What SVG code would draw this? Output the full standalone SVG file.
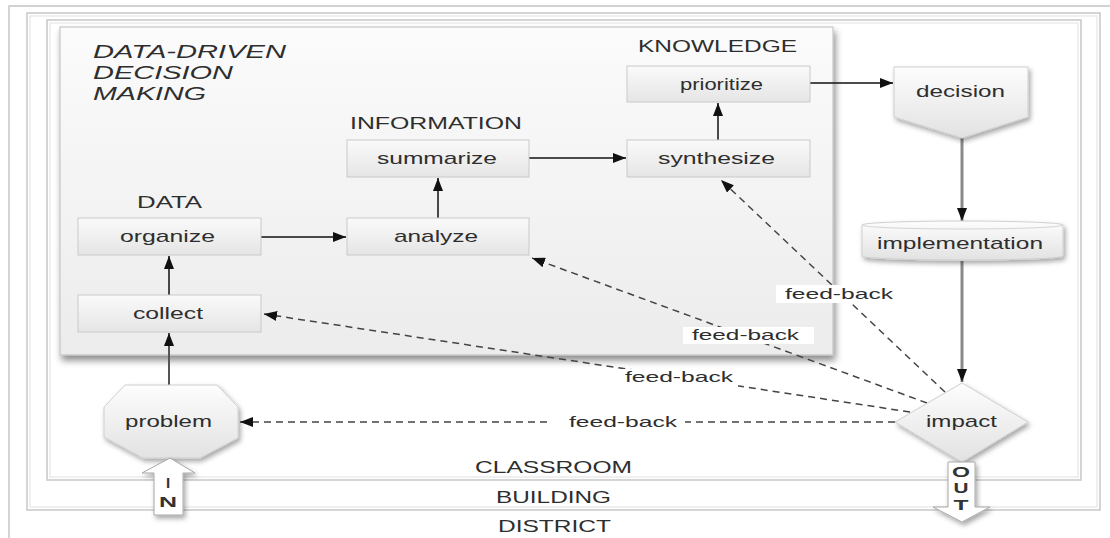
<svg xmlns="http://www.w3.org/2000/svg" width="1110" height="538" viewBox="0 0 1110 538">
  <defs>
    <style>
      text { font-family: "Liberation Sans", Arial, sans-serif; fill: #2e2e2e; }
      .title { font-size: 19px; font-style: italic; }
      .section { font-size: 17px; }
      .label { font-size: 17px; }
      .fb { font-size: 15px; }
      .level { font-size: 17px; }
      .io { font-size: 15px; font-weight: bold; fill: #333; }
      .frame { fill: none; stroke: #c4c4c4; stroke-width: 1.4; }
      .frame-in { fill: none; stroke: #e6e6e6; stroke-width: 1.2; }
      .box { fill: url(#boxGrad); stroke: #c9c9c9; stroke-width: 1; }
      .shape { fill: url(#shapeGrad); stroke: #cfcfcf; stroke-width: 1; filter: url(#shadow); }
      .flow { stroke: #111; stroke-width: 1.5; fill: none; marker-end: url(#arrow); }
      .flow-gray { stroke: #8a8a8a; stroke-width: 3; fill: none; marker-end: url(#arrow); }
      .flow-dark { stroke: #555; stroke-width: 2; fill: none; marker-end: url(#arrow); }
      .feedback { stroke: #444; stroke-width: 1.5; stroke-dasharray: 7 5; fill: none; marker-end: url(#arrow); }
      .lblbg { fill: #ffffff; }
      .io-arrow { fill: #ffffff; stroke: #a8a8a8; stroke-width: 1; filter: url(#shadow); }
    </style>
    <linearGradient id="panelGrad" x1="0" y1="0" x2="0" y2="1">
      <stop offset="0" stop-color="#fbfbfb"/>
      <stop offset="1" stop-color="#ececec"/>
    </linearGradient>
    <linearGradient id="boxGrad" x1="0" y1="0" x2="0" y2="1">
      <stop offset="0" stop-color="#fafafa"/>
      <stop offset="1" stop-color="#e5e5e5"/>
    </linearGradient>
    <linearGradient id="shapeGrad" x1="0" y1="0" x2="0" y2="1">
      <stop offset="0" stop-color="#fdfdfd"/>
      <stop offset="1" stop-color="#e2e2e2"/>
    </linearGradient>
    <filter id="shadow" x="-20%" y="-20%" width="140%" height="150%">
      <feDropShadow dx="2" dy="3" stdDeviation="2.5" flood-color="#000" flood-opacity="0.35"/>
    </filter>
    <filter id="panelShadow" x="-5%" y="-5%" width="110%" height="115%">
      <feDropShadow dx="2" dy="5" stdDeviation="3.5" flood-color="#000" flood-opacity="0.45"/>
    </filter>
    <marker id="arrow" markerUnits="userSpaceOnUse" markerWidth="14" markerHeight="10" refX="13" refY="5" orient="auto">
      <path d="M0,0 L13,5 L0,10 Z" fill="#111" stroke="none"/>
    </marker>
  </defs>

  <rect width="1110" height="538" fill="#ffffff"/>

  <!-- nested scopes: district, building, classroom -->
  <g id="district">
    <path class="frame" d="M9,538 L9,6 L1110,6"/>
    <text class="level" x="498" y="532" textLength="113" lengthAdjust="spacingAndGlyphs">DISTRICT</text>
  </g>
  <g id="building">
    <rect class="frame" x="27" y="13" width="1073" height="497"/>
    <rect class="frame-in" x="30" y="16" width="1067" height="491"/>
    <text class="level" x="496" y="503" textLength="115" lengthAdjust="spacingAndGlyphs">BUILDING</text>
  </g>
  <g id="classroom">
    <rect class="frame" x="47" y="20" width="1034" height="460"/>
    <rect class="frame-in" x="50" y="23" width="1028" height="454"/>
    <text class="level" x="475" y="473" textLength="157" lengthAdjust="spacingAndGlyphs">CLASSROOM</text>
  </g>

  <!-- data-driven decision making panel -->
  <g id="ddm-panel">
    <rect x="60" y="27" width="773" height="328" fill="url(#panelGrad)" stroke="#bdbdbd" stroke-width="1" filter="url(#panelShadow)"/>
    <text class="title" x="93" y="58" textLength="193" lengthAdjust="spacingAndGlyphs">DATA-DRIVEN</text>
    <text class="title" x="93" y="79" textLength="140" lengthAdjust="spacingAndGlyphs">DECISION</text>
    <text class="title" x="93" y="100" textLength="113" lengthAdjust="spacingAndGlyphs">MAKING</text>
    <text class="section" x="137" y="208" textLength="65" lengthAdjust="spacingAndGlyphs">DATA</text>
    <text class="section" x="350" y="129" textLength="172" lengthAdjust="spacingAndGlyphs">INFORMATION</text>
    <text class="section" x="638" y="52" textLength="159" lengthAdjust="spacingAndGlyphs">KNOWLEDGE</text>
  </g>

  <!-- connectors -->
  <g id="connectors">
    <line class="flow-dark" x1="169" y1="385" x2="169" y2="333"/>
    <line class="flow" x1="169" y1="295" x2="169" y2="256"/>
    <line class="flow" x1="261" y1="237" x2="346" y2="237"/>
    <line class="flow" x1="438" y1="218" x2="438" y2="178"/>
    <line class="flow" x1="529" y1="158" x2="626" y2="158"/>
    <line class="flow" x1="718" y1="140" x2="718" y2="103"/>
    <line class="flow" x1="810" y1="83" x2="893" y2="83"/>
    <line class="flow-gray" x1="962" y1="138" x2="962" y2="221"/>
    <line class="flow-gray" x1="962" y1="261" x2="962" y2="382"/>

    <line class="feedback" x1="895" y1="422" x2="240" y2="422"/>
    <line class="feedback" x1="910" y1="412" x2="264" y2="314"/>
    <line class="feedback" x1="927" y1="403" x2="532" y2="258"/>
    <line class="feedback" x1="945" y1="392" x2="721" y2="180"/>

    <rect class="lblbg" x="547" y="413" width="138" height="19"/>
    <text class="fb" x="569" y="427" textLength="108" lengthAdjust="spacingAndGlyphs">feed-back</text>
    <rect class="lblbg" x="620" y="369" width="118" height="18"/>
    <text class="fb" x="625" y="382" textLength="108" lengthAdjust="spacingAndGlyphs">feed-back</text>
    <rect class="lblbg" x="683" y="327" width="131" height="17"/>
    <text class="fb" x="692" y="340" textLength="107" lengthAdjust="spacingAndGlyphs">feed-back</text>
    <rect class="lblbg" x="776" y="285" width="117" height="18"/>
    <text class="fb" x="785" y="299" textLength="108" lengthAdjust="spacingAndGlyphs">feed-back</text>
  </g>

  <!-- process steps -->
  <g id="collect">
    <rect class="box" x="78" y="295" width="183" height="37"/>
    <text class="label" x="133" y="319" textLength="70" lengthAdjust="spacingAndGlyphs">collect</text>
  </g>
  <g id="organize">
    <rect class="box" x="78" y="218" width="183" height="37"/>
    <text class="label" x="120" y="242" textLength="95" lengthAdjust="spacingAndGlyphs">organize</text>
  </g>
  <g id="analyze">
    <rect class="box" x="347" y="218" width="182" height="37"/>
    <text class="label" x="394" y="242" textLength="84" lengthAdjust="spacingAndGlyphs">analyze</text>
  </g>
  <g id="summarize">
    <rect class="box" x="347" y="140" width="182" height="37"/>
    <text class="label" x="377" y="164" textLength="120" lengthAdjust="spacingAndGlyphs">summarize</text>
  </g>
  <g id="synthesize">
    <rect class="box" x="627" y="140" width="183" height="37"/>
    <text class="label" x="658" y="164" textLength="117" lengthAdjust="spacingAndGlyphs">synthesize</text>
  </g>
  <g id="prioritize">
    <rect class="box" x="627" y="66" width="183" height="36"/>
    <text class="label" x="680" y="90" textLength="83" lengthAdjust="spacingAndGlyphs">prioritize</text>
  </g>

  <g id="decision">
    <path class="shape" d="M894,67 L1028,67 L1028,117 L962,138 L894,117 Z"/>
    <text class="label" x="916" y="97" textLength="89" lengthAdjust="spacingAndGlyphs">decision</text>
  </g>
  <g id="implementation">
    <path class="shape" d="M862,225 A100.5,4 0 0 1 1063,225 L1063,256 A100.5,4 0 0 1 862,256 Z"/>
    <path d="M862,225 A100.5,4 0 0 0 1063,225" fill="none" stroke="#d4d4d4" stroke-width="1"/>
    <text class="label" x="877" y="249" textLength="166" lengthAdjust="spacingAndGlyphs">implementation</text>
  </g>
  <g id="impact">
    <path class="shape" d="M962,383 L1028,422 L962,462 L895,422 Z"/>
    <text class="label" x="926" y="427" textLength="71" lengthAdjust="spacingAndGlyphs">impact</text>
  </g>
  <g id="problem">
    <path class="shape" d="M125,385 L217,385 L238,407 L238,438 L200,458 L143,458 L104,437 L104,407 Z"/>
    <text class="label" x="125" y="427" textLength="87" lengthAdjust="spacingAndGlyphs">problem</text>
  </g>

  <!-- entry and exit arrows -->
  <g id="in">
    <path class="io-arrow" d="M170,458 L195,473 L183,473 L183,515 L154,515 L154,473 L142,473 Z"/>
    <text class="io" x="168" y="488" text-anchor="middle">I</text>
    <text class="io" x="168" y="507" text-anchor="middle" textLength="18" lengthAdjust="spacingAndGlyphs">N</text>
  </g>
  <g id="out">
    <path class="io-arrow" d="M948,462 L975,462 L975,507 L990,507 L962,522 L933,507 L948,507 Z"/>
    <text class="io" x="961" y="477" text-anchor="middle" textLength="18" lengthAdjust="spacingAndGlyphs">O</text>
    <text class="io" x="961" y="493" text-anchor="middle" textLength="15" lengthAdjust="spacingAndGlyphs">U</text>
    <text class="io" x="961" y="510" text-anchor="middle" textLength="15" lengthAdjust="spacingAndGlyphs">T</text>
  </g>
</svg>
